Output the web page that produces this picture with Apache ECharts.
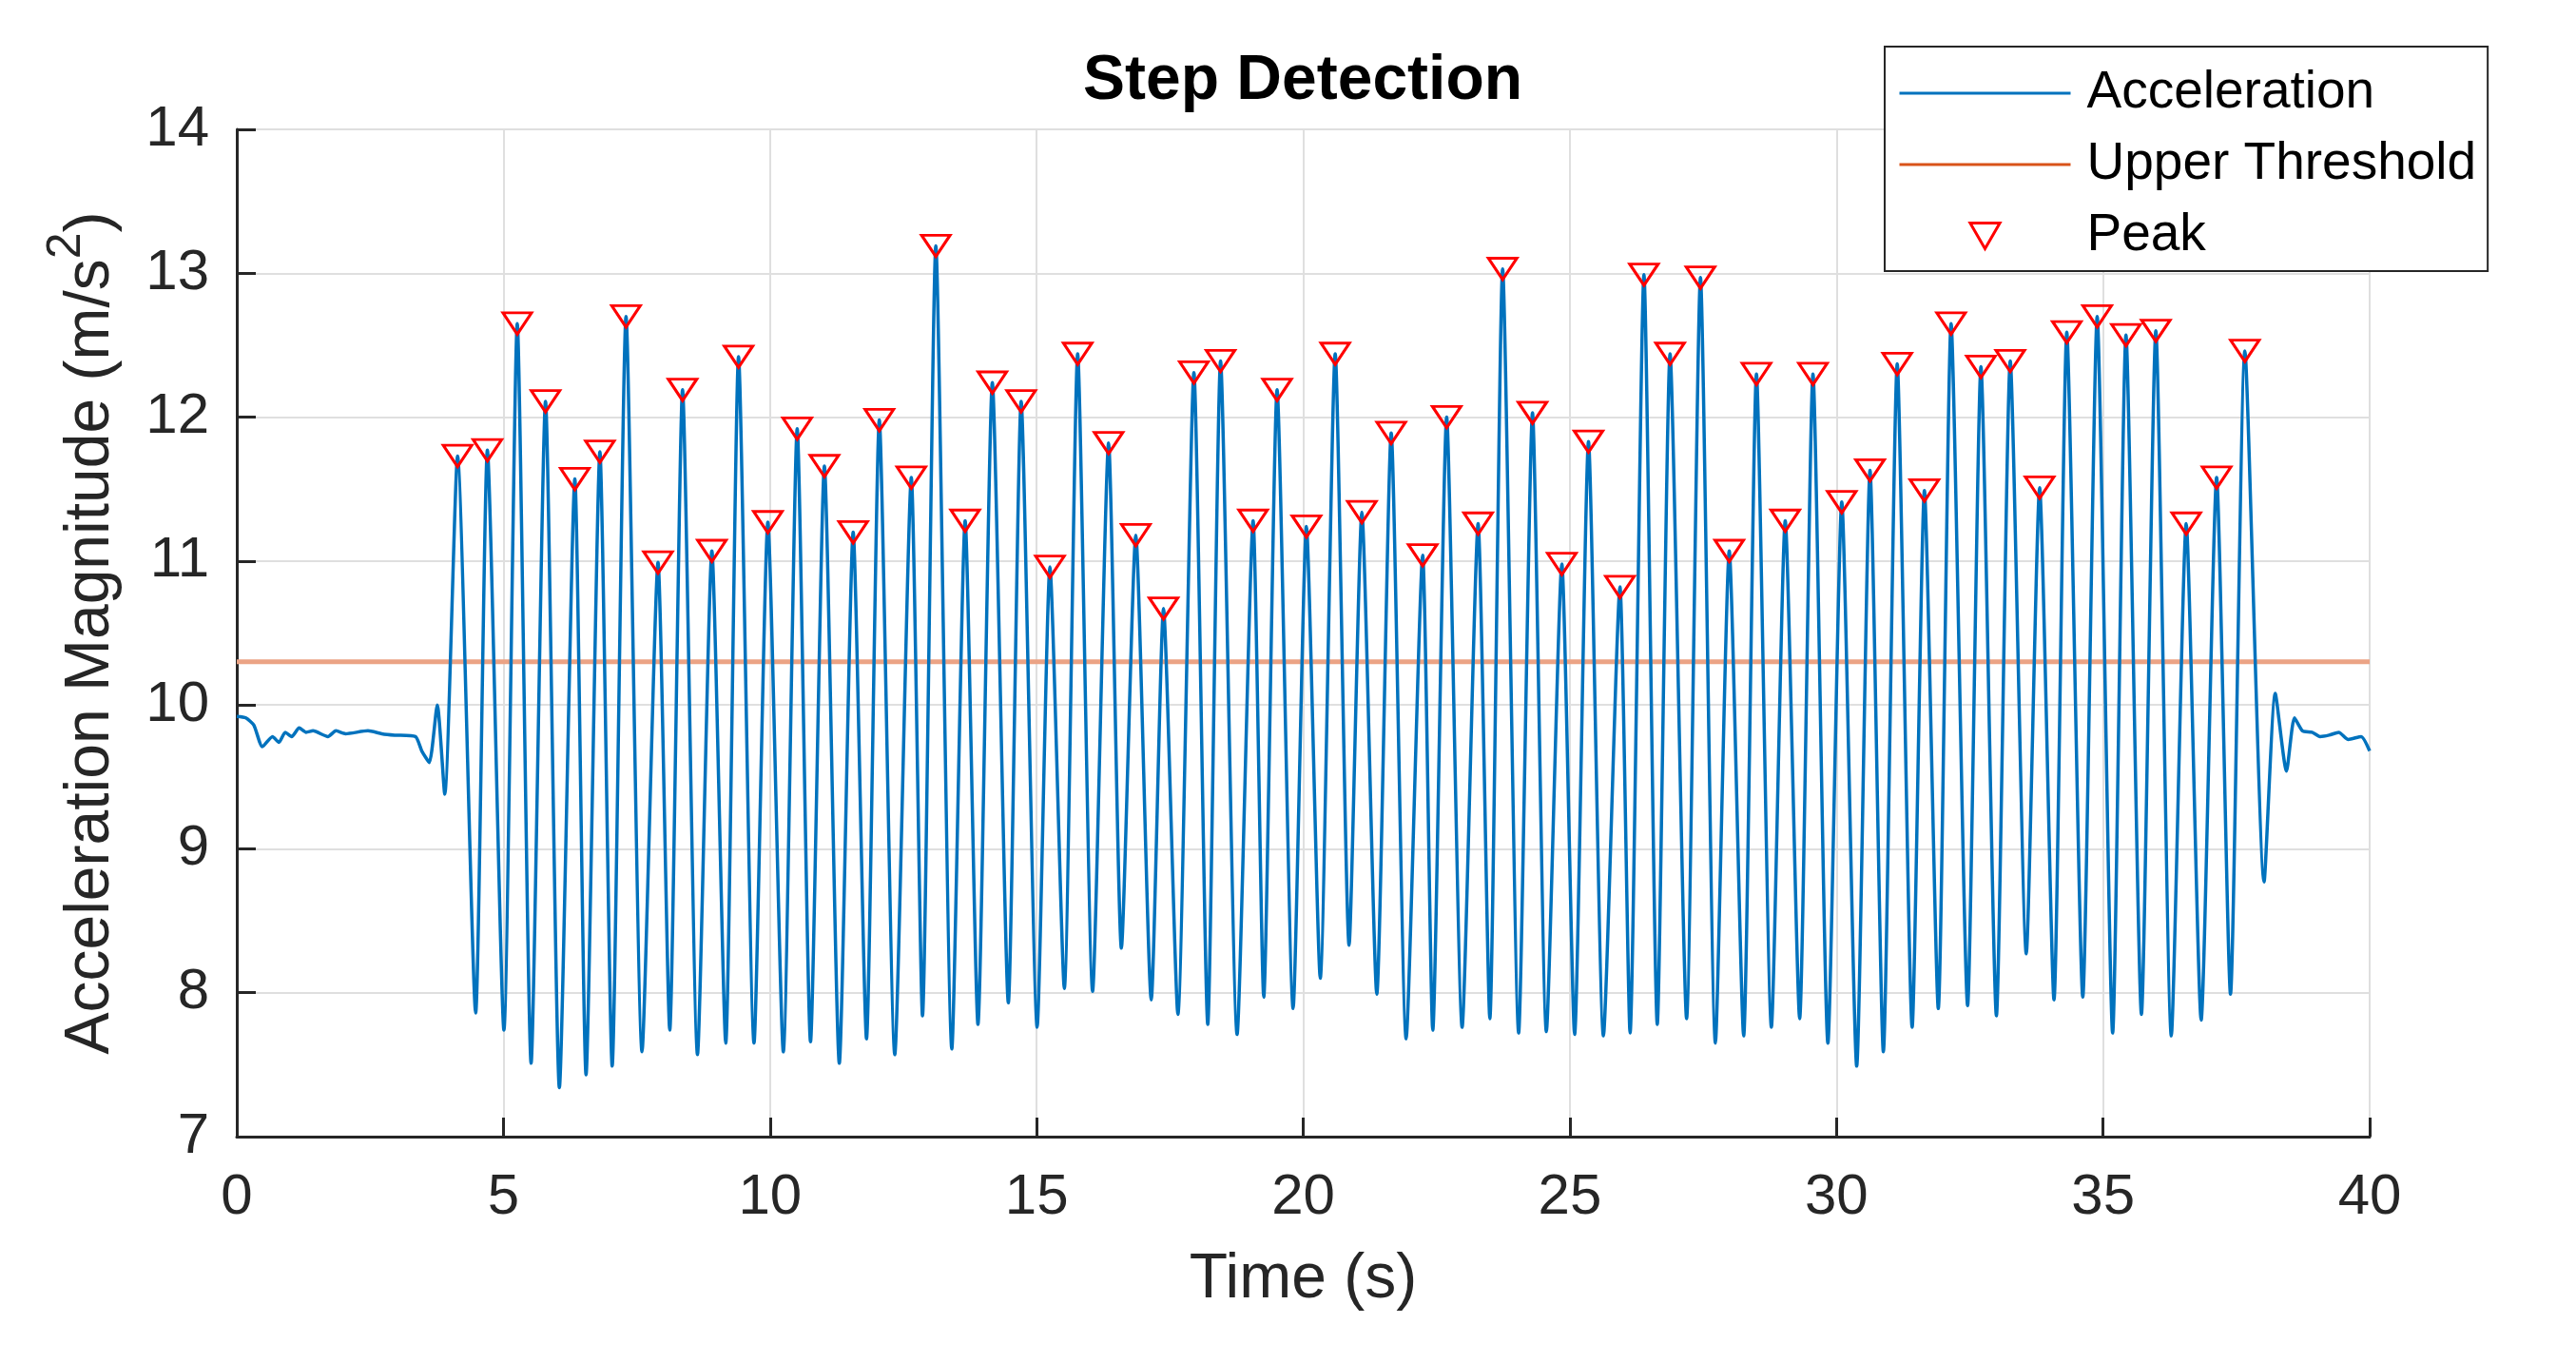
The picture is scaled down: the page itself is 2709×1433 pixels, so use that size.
<!DOCTYPE html>
<html>
<head>
<meta charset="utf-8">
<script src="https://cdn.jsdelivr.net/npm/echarts@6/dist/echarts.min.js"></script>
<style>
html,body{margin:0;padding:0;background:#fff;}
#chart{width:2709px;height:1433px;}
</style>
</head>
<body>
<div id="chart"></div>
<script>
// ---- Data ----
var startTime  = [0, 0.17, 0.32, 0.48, 0.67, 0.79, 0.91, 1.03, 1.17, 1.30, 1.43, 1.71, 1.86, 2.04, 2.46, 2.72, 2.96, 3.35, 3.47, 3.61, 3.76, 3.90];
var startValue = [9.92, 9.91, 9.86, 9.71, 9.78, 9.74, 9.81, 9.78, 9.84, 9.81, 9.82, 9.78, 9.82, 9.80, 9.82, 9.80, 9.79, 9.78, 9.68, 9.60, 10.00, 9.38];

var peakTime  = [4.14, 4.70, 5.26, 5.79, 6.34, 6.81, 7.30, 7.90, 8.36, 8.91, 9.41, 9.96, 10.51, 11.02, 11.56, 12.05,
                 12.65, 13.11, 13.66, 14.17, 14.71, 15.25, 15.77, 16.35, 16.86, 17.38, 17.95, 18.45, 19.06, 19.51, 20.06, 20.60,
                 21.10, 21.65, 22.24, 22.69, 23.28, 23.74, 24.30, 24.85, 25.35, 25.94, 26.39, 26.88, 27.45, 27.99, 28.50, 29.04,
                 29.56, 30.10, 30.63, 31.14, 31.65, 32.15, 32.71, 33.26, 33.81, 34.32, 34.89, 35.43, 35.99, 36.56, 37.13, 37.66];
var peakValue = [11.73, 11.77, 12.65, 12.11, 11.57, 11.76, 12.70, 10.99, 12.19, 11.07, 12.42, 11.27, 11.92, 11.66, 11.20, 11.98,
                 11.58, 13.19, 11.28, 12.24, 12.11, 10.96, 12.44, 11.82, 11.18, 10.67, 12.31, 12.39, 11.28, 12.19, 11.24, 12.44,
                 11.34, 11.89, 11.04, 12.00, 11.26, 13.03, 12.03, 10.98, 11.83, 10.82, 12.99, 12.44, 12.97, 11.07, 12.30, 11.28,
                 12.30, 11.41, 11.63, 12.37, 11.49, 12.65, 12.35, 12.39, 11.51, 12.59, 12.70, 12.57, 12.60, 11.26, 11.58, 12.46];

var troughTime  = [4.48, 5.01, 5.52, 6.05, 6.55, 7.04, 7.60, 8.12, 8.64, 9.17, 9.70, 10.25, 10.76, 11.30, 11.81, 12.34,
                   12.86, 13.41, 13.90, 14.47, 15.01, 15.52, 16.05, 16.59, 17.15, 17.65, 18.21, 18.76, 19.26, 19.81, 20.32, 20.86,
                   21.38, 21.93, 22.43, 22.98, 23.50, 24.04, 24.56, 25.09, 25.63, 26.13, 26.64, 27.19, 27.73, 28.26, 28.78, 29.31,
                   29.84, 30.38, 30.88, 31.42, 31.91, 32.46, 33.00, 33.56, 34.08, 34.62, 35.18, 35.72, 36.28, 36.84, 37.39, 38.02];
var troughValue = [7.86, 7.74, 7.51, 7.34, 7.43, 7.49, 7.59, 7.74, 7.57, 7.65, 7.65, 7.59, 7.66, 7.51, 7.68, 7.57,
                   7.84, 7.61, 7.78, 7.93, 7.76, 8.03, 8.01, 8.31, 7.95, 7.85, 7.78, 7.71, 7.97, 7.89, 8.10, 8.33,
                   7.99, 7.68, 7.74, 7.76, 7.82, 7.72, 7.73, 7.71, 7.70, 7.72, 7.78, 7.82, 7.65, 7.70, 7.76, 7.82,
                   7.65, 7.49, 7.59, 7.76, 7.89, 7.91, 7.84, 8.27, 7.95, 7.97, 7.72, 7.85, 7.70, 7.81, 7.99, 8.77];

var endTime  = [38.23, 38.44, 38.59, 38.74, 38.92, 39.07, 39.24, 39.42, 39.60, 39.84, 40.0];
var endValue = [10.08, 9.54, 9.91, 9.82, 9.81, 9.78, 9.79, 9.81, 9.76, 9.78, 9.68];

var thresholdTime  = [0, 40];
var thresholdValue = [10.3, 10.3];

var xTicks = [0, 5, 10, 15, 20, 25, 30, 35, 40];
var yTicks = [7, 8, 9, 10, 11, 12, 13, 14];

var seriesNames = ['Acceleration', 'Upper Threshold', 'Peak'];
var titleText = 'Step Detection';
var xName = 'Time (s)';

// ---- Build series data from the arrays ----
var accData = [];
for (var i = 0; i < startTime.length; i++) accData.push([startTime[i], startValue[i]]);
for (var j = 0; j < peakTime.length; j++) {
  accData.push([peakTime[j], peakValue[j]]);
  accData.push([troughTime[j], troughValue[j]]);
}
for (var k = 0; k < endTime.length; k++) accData.push([endTime[k], endValue[k]]);

var thrData = thresholdTime.map(function (t, i) { return [t, thresholdValue[i]]; });
var peakData = peakTime.map(function (t, i) { return [t, peakValue[i]]; });

var FONT = '"Liberation Sans", Arial, Helvetica, sans-serif';
var AXIS_COLOR = '#262626';
var triPath = 'path://M0,0L10,0L5,8.66Z';
var hidden = {color: 'rgba(0,0,0,0)', borderColor: 'rgba(0,0,0,0)', borderWidth: 0};

var chart = echarts.init(document.getElementById('chart'), null, {renderer: 'canvas'});
chart.setOption({
  animation: false,
  backgroundColor: '#ffffff',
  textStyle: {fontFamily: FONT},
  title: {
    text: titleText,
    left: 1370,
    top: 53,
    padding: 0,
    textAlign: 'center',
    textStyle: {fontFamily: FONT, fontSize: 66, fontWeight: 'bold', color: '#000000', lineHeight: 66}
  },
  grid: {left: 249, right: 217, top: 136, bottom: 238, containLabel: false},
  legend: {
    orient: 'vertical',
    left: 1982,
    top: 49,
    padding: [19, 12, 7, 14],
    itemGap: 15,
    itemWidth: 180,
    itemHeight: 27,
    align: 'left',
    backgroundColor: '#ffffff',
    borderColor: AXIS_COLOR,
    borderWidth: 2,
    borderRadius: 0,
    selectedMode: false,
    textStyle: {fontFamily: FONT, fontSize: 55, color: '#000000', lineHeight: 60, padding: [0, 0, 0, 12]},
    data: [
      {name: seriesNames[0], itemStyle: hidden, lineStyle: {color: '#0072BD', width: 3}},
      {name: seriesNames[1], itemStyle: hidden, lineStyle: {color: '#D95319', width: 3}},
      {name: seriesNames[2], icon: triPath, itemStyle: {color: 'rgba(0,0,0,0)', borderColor: '#FF0000', borderWidth: 3}}
    ]
  },
  xAxis: {
    type: 'value',
    min: xTicks[0],
    max: xTicks[xTicks.length - 1],
    interval: 5,
    name: xName,
    nameLocation: 'middle',
    nameGap: 118,
    nameTextStyle: {fontFamily: FONT, fontSize: 66, color: AXIS_COLOR, lineHeight: 66},
    axisLine: {show: true, onZero: false, lineStyle: {color: AXIS_COLOR, width: 3}},
    axisTick: {show: true, inside: true, length: 20, lineStyle: {color: AXIS_COLOR, width: 3}},
    axisLabel: {fontFamily: FONT, fontSize: 60, color: AXIS_COLOR, margin: 34, lineHeight: 60},
    splitLine: {show: true, lineStyle: {color: '#DFDFDF', width: 2}}
  },
  yAxis: {
    type: 'value',
    min: yTicks[0],
    max: yTicks[yTicks.length - 1],
    interval: 1,
    name: 'Acceleration Magnitude (m/s{sup|2})',
    nameLocation: 'middle',
    nameGap: 120,
    nameTextStyle: {
      fontFamily: FONT, fontSize: 66, color: AXIS_COLOR, lineHeight: 66, verticalAlign: 'bottom',
      rich: {
        sup: {fontFamily: FONT, fontSize: 50, color: AXIS_COLOR, lineHeight: 50, padding: [0, 0, 34, 0], verticalAlign: 'bottom'}
      }
    },
    axisLine: {show: true, onZero: false, lineStyle: {color: AXIS_COLOR, width: 3}},
    axisTick: {show: true, inside: true, length: 20, lineStyle: {color: AXIS_COLOR, width: 3}},
    axisLabel: {fontFamily: FONT, fontSize: 60, color: AXIS_COLOR, margin: 29},
    splitLine: {show: true, lineStyle: {color: '#DFDFDF', width: 2}}
  },
  series: [
    {
      name: seriesNames[0],
      type: 'line',
      data: accData,
      symbol: 'none',
      showSymbol: false,
      smooth: 0.2,
      clip: true,
      lineStyle: {color: '#0072BD', width: 3.5},
      itemStyle: {color: '#0072BD'},
      z: 3
    },
    {
      name: seriesNames[1],
      type: 'line',
      data: thrData,
      symbol: 'none',
      showSymbol: false,
      lineStyle: {color: '#EBA385', width: 5},
      itemStyle: {color: '#D95319'},
      z: 2
    },
    {
      name: seriesNames[2],
      type: 'scatter',
      data: peakData,
      symbol: triPath,
      symbolKeepAspect: true,
      symbolSize: [30, 26],
      itemStyle: {color: 'rgba(0,0,0,0)', borderColor: '#FF0000', borderWidth: 3, opacity: 1},
      z: 4
    }
  ]
});
</script>
</body>
</html>
